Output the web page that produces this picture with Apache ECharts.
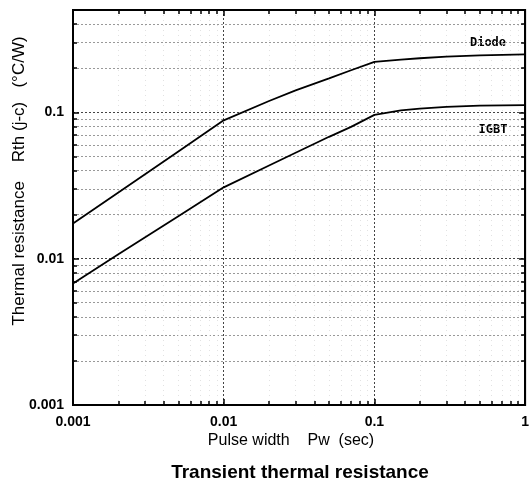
<!DOCTYPE html>
<html lang="en">
<head>
    <meta charset="UTF-8">
    <title>Transient thermal resistance</title>
    <script src="https://cdn.jsdelivr.net/npm/echarts@6/dist/echarts.min.js"></script>
</head>
<body style="margin:0">
<div id="main" style="width: 532px;height: 485px"></div>
<script>
    // pulse width (sec)
    var pulseWidth = [0.001, 0.002, 0.005, 0.01, 0.02, 0.03, 0.05, 0.07, 0.1, 0.15, 0.2, 0.3, 0.5, 1];
    // Rth(j-c) (°C/W)
    var diode = [0.0174, 0.0283, 0.054, 0.0881, 0.1195, 0.1413, 0.1705, 0.1937, 0.221, 0.229, 0.234, 0.240, 0.245, 0.249];
    var igbt = [0.00677, 0.0107, 0.0195, 0.0307, 0.0433, 0.0529, 0.068, 0.0795, 0.096, 0.103, 0.106, 0.109, 0.111, 0.112];
    var xTicks = [0.001, 0.01, 0.1, 1];
    var yTicks = [0.001, 0.01, 0.1];

    var myChart = echarts.init(document.getElementById('main'));

    function pairs(ys) {
        return pulseWidth.map(function (x, i) { return [x, ys[i]]; });
    }
    function isTick(list, v) {
        return list.some(function (t) { return Math.abs(Math.log10(v) - Math.log10(t)) < 1e-6; });
    }

    var labelFont = {fontFamily: 'Liberation Sans', fontWeight: 'bold', fontSize: 14, color: '#000'};
    var minor = {show: true, splitNumber: 9, length: 4, lineStyle: {color: '#000', width: 1.5}};
    var tick = {inside: true, length: 6, lineStyle: {color: '#000', width: 1.5}};
    var frame = {lineStyle: {color: '#000', width: 2}};

    var option = {
        backgroundColor: '#fff',
        animation: false,
        grid: {left: 73, right: 4, top: 10, bottom: 80, show: true, borderColor: '#000', borderWidth: 2},
        xAxis: [{
            type: 'log', min: 0.001, max: 1, position: 'bottom',
            axisLine: frame, axisTick: tick, minorTick: minor,
            axisLabel: Object.assign({margin: 10, formatter: function (v) { return isTick(xTicks, v) ? String(+v.toPrecision(3)) : ''; }}, labelFont),
            splitLine: {show: true, lineStyle: {color: '#444', type: [2, 2], width: 1}},
            minorSplitLine: {show: true, lineStyle: {color: '#e2e2e2', type: [1, 4], width: 1}}
        }, {
            type: 'log', min: 0.001, max: 1, position: 'top',
            axisLine: frame, axisTick: tick, minorTick: minor,
            axisLabel: {show: false}, splitLine: {show: false}
        }],
        yAxis: [{
            type: 'log', min: 0.001, max: 0.5, position: 'left',
            axisLine: frame, axisTick: tick, minorTick: minor,
            axisLabel: Object.assign({margin: 9, formatter: function (v) { return isTick(yTicks, v) ? String(+v.toPrecision(3)) : ''; }}, labelFont),
            splitLine: {show: true, lineStyle: {color: '#444', type: [2, 2], width: 1}},
            minorSplitLine: {show: true, lineStyle: {color: '#999', type: [2, 2], width: 1}}
        }, {
            type: 'log', min: 0.001, max: 0.5, position: 'right',
            axisLine: frame, axisTick: tick, minorTick: minor,
            axisLabel: {show: false}, splitLine: {show: false}
        }],
        graphic: [
            {type: 'text', x: 291, y: 441, style: {text: 'Pulse width    Pw  (sec)', font: '16px "Liberation Sans"', fill: '#000', align: 'center', verticalAlign: 'middle'}},
            {type: 'text', x: 19, y: 181, rotation: Math.PI / 2, style: {text: 'Thermal resistance    Rth (j-c)   (°C/W)', font: '17px "Liberation Sans"', fill: '#000', align: 'center', verticalAlign: 'middle'}},
            {type: 'text', x: 300, y: 473, style: {text: 'Transient thermal resistance', font: 'bold 19px "Liberation Sans"', fill: '#000', align: 'center', verticalAlign: 'middle'}},
            {type: 'text', x: 488, y: 43, style: {text: 'Diode', font: 'bold 12px "DejaVu Sans Mono"', fill: '#000', align: 'center', verticalAlign: 'middle'}},
            {type: 'text', x: 493, y: 130, style: {text: 'IGBT', font: 'bold 12px "DejaVu Sans Mono"', fill: '#000', align: 'center', verticalAlign: 'middle'}}
        ],
        series: [{
            name: 'Diode', type: 'line', smooth: false, symbol: 'none',
            lineStyle: {color: '#000', width: 1.8},
            data: pairs(diode)
        }, {
            name: 'IGBT', type: 'line', smooth: false, symbol: 'none',
            lineStyle: {color: '#000', width: 1.8},
            data: pairs(igbt)
        }]
    };
    myChart.setOption(option);
</script>
</body>
</html>
